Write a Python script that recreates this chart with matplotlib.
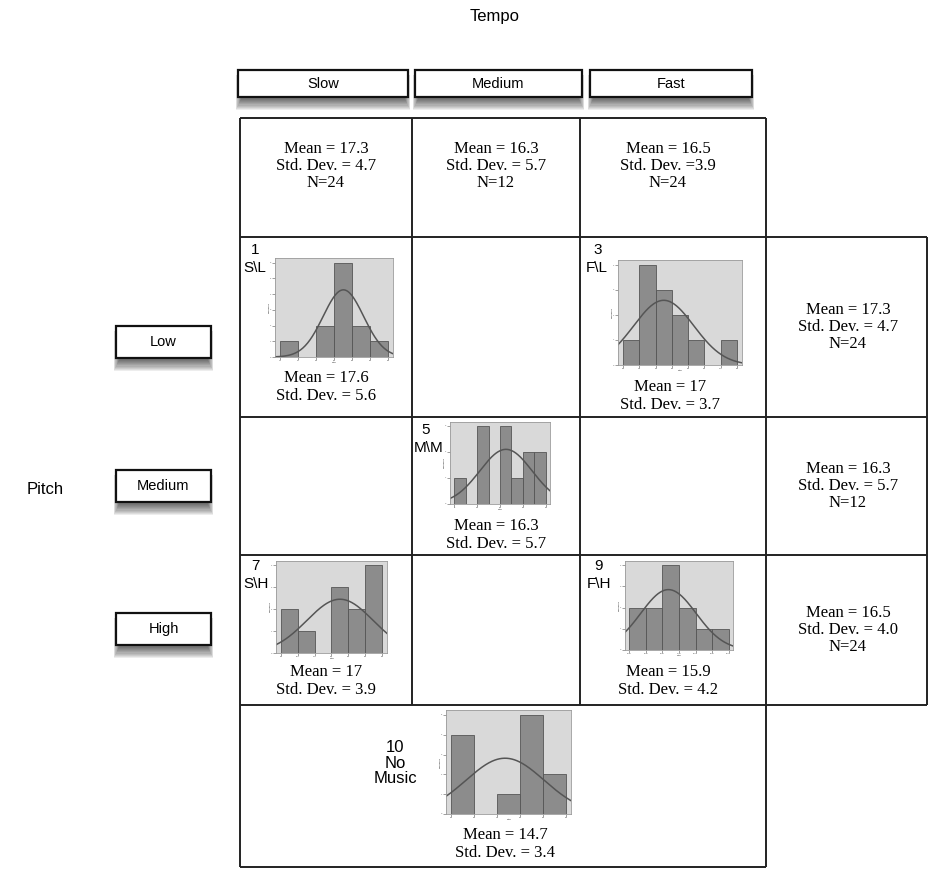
import numpy as np
import matplotlib
matplotlib.use("Agg")
from matplotlib import pyplot as plt
from matplotlib.patches import Rectangle

W, H = 929, 869

# ---- data ----
tempo_levels = ["Slow", "Medium", "Fast"]
pitch_levels = ["Low", "Medium", "High"]

# column (tempo) summaries
col_mean = ["17.3", "16.3", "16.5"]
col_sd = ["= 4.7", "= 5.7", "=3.9"]
col_n = [24, 12, 24]

# row (pitch) summaries
row_mean = ["17.3", "16.3", "16.5"]
row_sd = ["4.7", "5.7", "4.0"]
row_n = [24, 12, 24]

# cell histograms: id, code, first bin edge, bin width, counts, mean, sd
cell_id = ["1", "3", "5", "7", "9", "10"]
cell_code = ["S\\L", "F\\L", "M\\M", "S\\H", "F\\H", "No\nMusic"]
bin_start = [0, 12, 5, 10, 10, 10]
bin_width = [5, 2, 2.5, 2, 2.5, 2]
counts = [
    [1, 0, 2, 6, 2, 1],
    [1, 4, 3, 2, 1, 0, 1],
    [1, 0, 3, 0, 3, 1, 2, 2],
    [2, 1, 0, 3, 2, 4],
    [2, 2, 4, 2, 1, 1],
    [4, 0, 1, 5, 2],
]
cell_mean = ["17.6", "17", "16.3", "17", "15.9", "14.7"]
cell_sd = ["5.6", "3.7", "5.7", "3.9", "4.2", "3.4"]

# ---- layout (pixels) ----
hist_box = [(275, 258, 393, 357), (618, 260, 742, 365), (450, 422, 550, 504),
            (276, 561, 387, 653), (625, 561, 733, 650), (446, 710, 571, 814)]
stat_pos = [(326, 387), (670, 396), (496, 535), (326, 681), (668, 681), (505, 844)]
id_pos = [(243, 250), (586, 250), (414, 430), (243, 566), (587, 566), (393, 745)]

sans = ["Liberation Sans", "DejaVu Sans"]
serif = ["Liberation Serif", "DejaVu Serif"]

fig = plt.figure(figsize=(W / 100, H / 100), dpi=100)
ax = fig.add_axes([0, 0, 1, 1])
ax.set_xlim(0, W)
ax.set_ylim(H, 0)
ax.axis("off")


def line(x0, y0, x1, y1):
    ax.plot([x0, x1], [y0, y1], color="#222222", lw=1.4, solid_capstyle="butt")


# grid lines
line(240, 118, 766, 118)
line(240, 237, 927, 237)
line(240, 417, 927, 417)
line(240, 555, 927, 555)
line(240, 705, 927, 705)
line(240, 867, 766, 867)
line(240, 118, 240, 867)
line(766, 118, 766, 867)
line(927, 237, 927, 705)
line(412, 118, 412, 705)
line(580, 118, 580, 705)


def button(x0, y0, x1, y1, label):
    # soft drop shadow under the box
    for i in range(10):
        ax.add_patch(Rectangle((x0 + 3 - i * 0.6, y0 + 3 + i * 0.2), x1 - x0 - 6 + i * 1.2,
                               y1 - y0 + i * 0.9, facecolor="black", edgecolor="none",
                               alpha=0.07, zorder=2))
    ax.add_patch(Rectangle((x0, y0), x1 - x0, y1 - y0, facecolor="white",
                           edgecolor="#111111", lw=1.6, zorder=3))
    ax.text((x0 + x1) / 2, (y0 + y1) / 2, label, ha="center", va="center",
            fontsize=10.5, family=sans, zorder=4)


tempo_boxes = [(238, 70, 408, 97), (415, 70, 582, 97), (590, 70, 752, 97)]
for (x0, y0, x1, y1), lab in zip(tempo_boxes, tempo_levels):
    button(x0, y0, x1, y1, lab)
pitch_boxes = [(116, 326, 211, 358), (116, 470, 211, 502), (116, 613, 211, 645)]
for (x0, y0, x1, y1), lab in zip(pitch_boxes, pitch_levels):
    button(x0, y0, x1, y1, lab)

ax.text(495, 16, "Tempo", ha="center", va="center", fontsize=12, family=sans)
ax.text(45, 490, "Pitch", ha="center", va="center", fontsize=12, family=sans)

# summary texts
col_x = [326, 496, 668]
for x, m, s, n in zip(col_x, col_mean, col_sd, col_n):
    ax.text(x, 166, f"Mean = {m}\nStd. Dev. {s}\nN={n}", ha="center", va="center",
            fontsize=12, family=serif, linespacing=1.1)
row_y = [327, 486, 630]
for y, m, s, n in zip(row_y, row_mean, row_sd, row_n):
    ax.text(848, y, f"Mean = {m}\nStd. Dev. = {s}\nN={n}", ha="center", va="center",
            fontsize=12, family=serif, linespacing=1.1)

# cell histograms
for k in range(len(cell_id)):
    x0, y0, x1, y1 = hist_box[k]
    hax = fig.add_axes([x0 / W, 1 - y1 / H, (x1 - x0) / W, (y1 - y0) / H])
    c = np.array(counts[k])
    edges = bin_start[k] + bin_width[k] * np.arange(len(c) + 1)
    hax.set_facecolor("#d9d9d9")
    hax.bar(edges[:-1], c, width=bin_width[k], align="edge", color="#8c8c8c",
            edgecolor="#555555", lw=0.6)
    span = edges[-1] - edges[0]
    lo, hi = edges[0] - 0.045 * span, edges[-1] + 0.045 * span
    xs = np.linspace(lo, hi, 200)
    mu, sd = float(cell_mean[k]), float(cell_sd[k])
    ys = c.sum() * bin_width[k] / (sd * np.sqrt(2 * np.pi)) * np.exp(-0.5 * ((xs - mu) / sd) ** 2)
    hax.plot(xs, ys, color="#555555", lw=1.1)
    hax.set_xlim(lo, hi)
    hax.set_ylim(0, c.max() * 1.05)
    step = 2 if len(c) == 8 else 1
    hax.set_xticks(edges[::step])
    hax.set_yticks(np.arange(0, c.max() + 1))
    hax.tick_params(length=2, width=0.4, labelsize=1.5, pad=0.5, colors="#555555")
    hax.set_xlabel("Total", fontsize=1.5, labelpad=0)
    hax.set_ylabel("Frequency", fontsize=1.5, labelpad=0)
    for sp in hax.spines.values():
        sp.set_color("#9a9a9a")
        sp.set_linewidth(0.6)

    sx, sy = stat_pos[k]
    ax.text(sx, sy, f"Mean = {cell_mean[k]}\nStd. Dev. = {cell_sd[k]}", ha="center",
            va="center", fontsize=12, family=serif, linespacing=1.1)
    ix, iy = id_pos[k]
    if k == len(cell_id) - 1:
        ax.text(ix + 2, iy + 18, cell_id[k] + "\n" + cell_code[k], ha="center", va="center",
                fontsize=12, family=sans, linespacing=1.05)
    else:
        ax.text(ix + 12, iy, cell_id[k], ha="center", va="center", fontsize=11, family=sans)
        ax.text(ix, iy + 18, cell_code[k], ha="left", va="center", fontsize=11, family=sans)

fig.savefig("out.png", dpi=100)
